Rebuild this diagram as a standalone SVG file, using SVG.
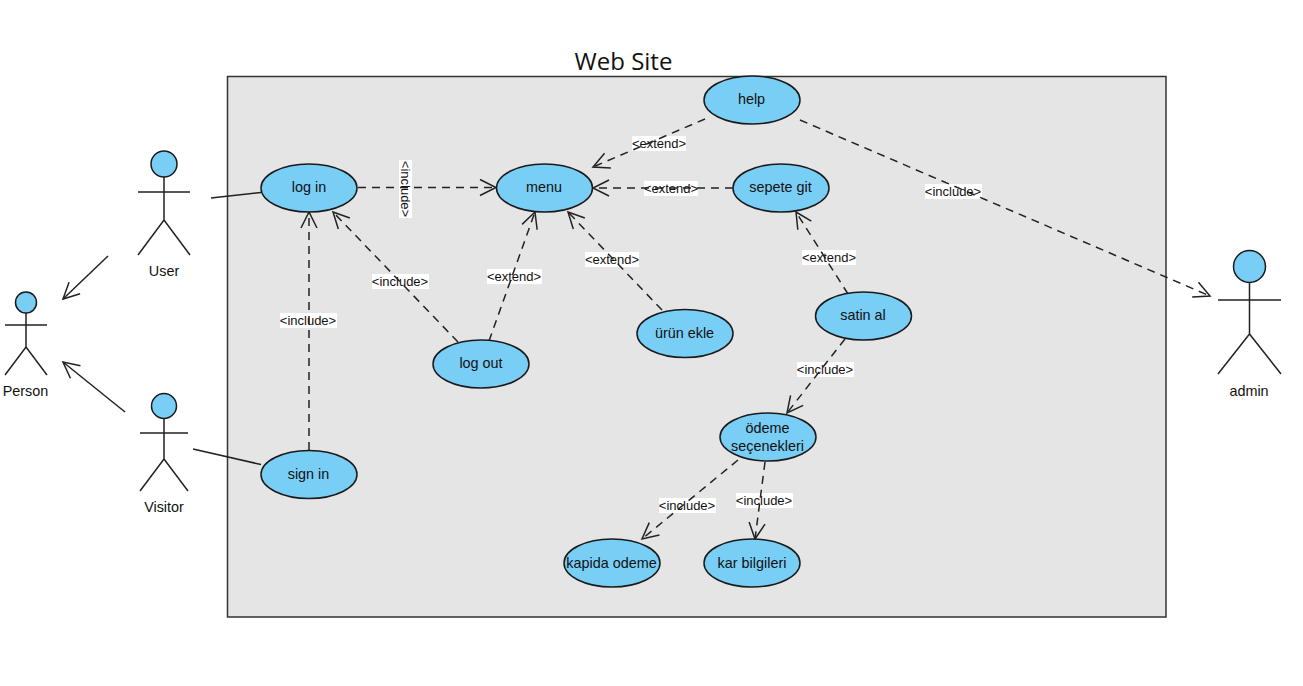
<svg xmlns="http://www.w3.org/2000/svg" width="1303" height="686" viewBox="0 0 1303 686">
<style>
.frame{fill:#e5e5e5;stroke:#333;stroke-width:1.5}
.uc{fill:#79cef6;stroke:#1a1a1a;stroke-width:1.5}
.t{font-family:"Liberation Sans",Arial,sans-serif;font-size:14.4px;fill:#111;text-anchor:middle}
.l{font-family:"Liberation Sans",Arial,sans-serif;font-size:13px;fill:#111;text-anchor:middle}
.bg{fill:#fff;stroke:none}
.title{font-family:"Open Sans",sans-serif;font-size:24px;fill:#111;text-anchor:middle}
.stick{fill:none;stroke:#222;stroke-width:1.5}
.solid{fill:none;stroke:#222;stroke-width:1.5}
.dash{fill:none;stroke:#222;stroke-width:1.5;stroke-dasharray:8 6}
.head{fill:#79cef6;stroke:#1a1a1a;stroke-width:1.5}
</style>
<defs>
<marker id="open" viewBox="-19 -10 21 20" refX="0" refY="0" markerWidth="21" markerHeight="20" markerUnits="userSpaceOnUse" orient="auto"><path d="M-16 -8L0 0L-16 8" fill="none" stroke="#222" stroke-width="1.5"/></marker>
</defs>
<text class="title" x="623.500" y="70">Web Site</text>
<rect class="frame" x="227.500" y="76.500" width="938.500" height="540.500"/>
<g id="labels">
<rect class="bg" x="399" y="160" width="13" height="58"/>
<text class="l" transform="translate(401 189) rotate(90)">&lt;include&gt;</text>
<rect class="bg" x="632" y="136" width="54" height="15"/><text class="l" x="659" y="148">&lt;extend&gt;</text>
<rect class="bg" x="644" y="181" width="54" height="15"/><text class="l" x="671" y="193">&lt;extend&gt;</text>
<rect class="bg" x="585" y="252" width="54" height="15"/><text class="l" x="612" y="264">&lt;extend&gt;</text>
<rect class="bg" x="487" y="269" width="55" height="15"/><text class="l" x="514" y="281">&lt;extend&gt;</text>
<rect class="bg" x="802" y="250" width="54" height="15"/><text class="l" x="829" y="262">&lt;extend&gt;</text>
<rect class="bg" x="372" y="274" width="57" height="15"/><text class="l" x="400" y="286">&lt;include&gt;</text>
<rect class="bg" x="280" y="313" width="57" height="15"/><text class="l" x="308" y="325">&lt;include&gt;</text>
<rect class="bg" x="925" y="184" width="57" height="15"/><text class="l" x="953" y="196">&lt;include&gt;</text>
<rect class="bg" x="797" y="362" width="57" height="15"/><text class="l" x="825" y="374">&lt;include&gt;</text>
<rect class="bg" x="659" y="498" width="57" height="15"/><text class="l" x="687" y="510">&lt;include&gt;</text>
<rect class="bg" x="736" y="493" width="57" height="15"/><text class="l" x="764" y="505">&lt;include&gt;</text>
</g>
<g id="connectors">
<path class="solid" d="M211 198L261 192.500"/>
<path class="solid" d="M193 449L261 464.500"/>
<path class="solid" marker-end="url(#open)" d="M108 256L63 299"/>
<path class="solid" marker-end="url(#open)" d="M125 412L63 362"/>
<path class="dash" marker-end="url(#open)" d="M358 187.500L496 187.500"/>
<path class="dash" marker-end="url(#open)" d="M309 450L309 212"/>
<path class="dash" marker-end="url(#open)" d="M458 342L333 212"/>
<path class="dash" marker-end="url(#open)" d="M489 341L535 212"/>
<path class="dash" marker-end="url(#open)" d="M662 310L568 212"/>
<path class="dash" marker-end="url(#open)" d="M733 188L593 188"/>
<path class="dash" marker-end="url(#open)" d="M705 119L593 167"/>
<path class="dash" marker-end="url(#open)" d="M800 120L1210 296"/>
<path class="dash" marker-end="url(#open)" d="M848 294L796 212"/>
<path class="dash" marker-end="url(#open)" d="M845 339L787 413"/>
<path class="dash" marker-end="url(#open)" d="M738 460L642 539"/>
<path class="dash" marker-end="url(#open)" d="M765 462L755 539"/>
</g>
<g id="user"><circle class="head" cx="164" cy="164" r="13"/><path class="stick" d="M164 177V220M138 192H190M138 255L164 220L190 255"/><text class="t" x="164" y="276">User</text></g>
<g id="person"><circle class="head" cx="26" cy="302.500" r="10.500"/><path class="stick" d="M26 313V347M5 325H47M5 375L26 347L47 375"/><text class="t" x="25.500" y="396">Person</text></g>
<g id="visitor"><circle class="head" cx="164" cy="406" r="12.500"/><path class="stick" d="M164 418.500V459M140 433H188M140 491L164 459L188 491"/><text class="t" x="164" y="512">Visitor</text></g>
<g id="admin"><circle class="head" cx="1249.500" cy="266.500" r="16"/><path class="stick" d="M1249.500 282.500V334M1218 300H1281M1218 374L1249.500 334L1281 374"/><text class="t" x="1249" y="396">admin</text></g>
<g id="login"><ellipse class="uc" cx="309" cy="188" rx="48" ry="24"/><text class="t" x="309" y="192">log in</text></g>
<g id="menu"><ellipse class="uc" cx="544.500" cy="188" rx="48" ry="24"/><text class="t" x="544" y="192">menu</text></g>
<g id="help"><ellipse class="uc" cx="752" cy="100" rx="48" ry="24"/><text class="t" x="751.500" y="104">help</text></g>
<g id="sepete"><ellipse class="uc" cx="781" cy="188" rx="48" ry="24"/><text class="t" x="780.500" y="192">sepete git</text></g>
<g id="satin"><ellipse class="uc" cx="863.500" cy="316" rx="48" ry="24"/><text class="t" x="863" y="320">satin al</text></g>
<g id="urun"><ellipse class="uc" cx="685" cy="333.500" rx="48" ry="24"/><text class="t" x="684.500" y="338">ürün ekle</text></g>
<g id="logout"><ellipse class="uc" cx="481" cy="364" rx="48" ry="24"/><text class="t" x="481" y="368">log out</text></g>
<g id="odeme"><ellipse class="uc" cx="768" cy="437" rx="48" ry="24"/><text class="t" x="767.500" y="433">ödeme</text><text class="t" x="767.500" y="451">seçenekleri</text></g>
<g id="signin"><ellipse class="uc" cx="309" cy="474.500" rx="48" ry="24"/><text class="t" x="308.500" y="479">sign in</text></g>
<g id="kapida"><ellipse class="uc" cx="612" cy="563" rx="48" ry="24"/><text class="t" x="611.500" y="568">kapida odeme</text></g>
<g id="kar"><ellipse class="uc" cx="752" cy="563" rx="48" ry="24"/><text class="t" x="752" y="568">kar bilgileri</text></g>
</svg>
